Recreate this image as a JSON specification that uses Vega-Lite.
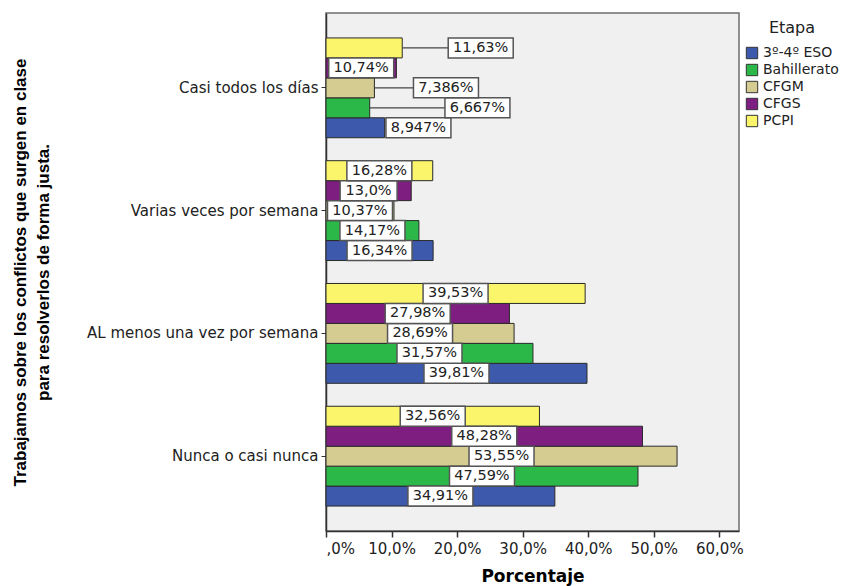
{
  "$schema": "https://vega.github.io/schema/vega-lite/v6.json",
  "width": 413,
  "height": 518,
  "autosize": "none",
  "padding": {"left": 326, "top": 13, "right": 106, "bottom": 55},
  "background": "white",
  "data": {
    "values": [
      {"Respuesta": "Casi todos los días", "Etapa": "3º-4º ESO", "value": 8.947, "label": "8,947%"},
      {"Respuesta": "Casi todos los días", "Etapa": "Bahillerato", "value": 6.667, "label": "6,667%"},
      {"Respuesta": "Casi todos los días", "Etapa": "CFGM", "value": 7.386, "label": "7,386%"},
      {"Respuesta": "Casi todos los días", "Etapa": "CFGS", "value": 10.74, "label": "10,74%"},
      {"Respuesta": "Casi todos los días", "Etapa": "PCPI", "value": 11.63, "label": "11,63%"},
      {"Respuesta": "Varias veces por semana", "Etapa": "3º-4º ESO", "value": 16.34, "label": "16,34%"},
      {"Respuesta": "Varias veces por semana", "Etapa": "Bahillerato", "value": 14.17, "label": "14,17%"},
      {"Respuesta": "Varias veces por semana", "Etapa": "CFGM", "value": 10.37, "label": "10,37%"},
      {"Respuesta": "Varias veces por semana", "Etapa": "CFGS", "value": 13.0, "label": "13,0%"},
      {"Respuesta": "Varias veces por semana", "Etapa": "PCPI", "value": 16.28, "label": "16,28%"},
      {"Respuesta": "AL menos una vez por semana", "Etapa": "3º-4º ESO", "value": 39.81, "label": "39,81%"},
      {"Respuesta": "AL menos una vez por semana", "Etapa": "Bahillerato", "value": 31.57, "label": "31,57%"},
      {"Respuesta": "AL menos una vez por semana", "Etapa": "CFGM", "value": 28.69, "label": "28,69%"},
      {"Respuesta": "AL menos una vez por semana", "Etapa": "CFGS", "value": 27.98, "label": "27,98%"},
      {"Respuesta": "AL menos una vez por semana", "Etapa": "PCPI", "value": 39.53, "label": "39,53%"},
      {"Respuesta": "Nunca o casi nunca", "Etapa": "3º-4º ESO", "value": 34.91, "label": "34,91%"},
      {"Respuesta": "Nunca o casi nunca", "Etapa": "Bahillerato", "value": 47.59, "label": "47,59%"},
      {"Respuesta": "Nunca o casi nunca", "Etapa": "CFGM", "value": 53.55, "label": "53,55%"},
      {"Respuesta": "Nunca o casi nunca", "Etapa": "CFGS", "value": 48.28, "label": "48,28%"},
      {"Respuesta": "Nunca o casi nunca", "Etapa": "PCPI", "value": 32.56, "label": "32,56%"}
    ]
  },
  "transform": [
    {"calculate": "datum.Respuesta === 'Casi todos los días' ? (datum.Etapa === 'PCPI' ? 23.6 : datum.Etapa === 'CFGM' ? 18.3 : datum.Etapa === 'Bahillerato' ? 23.1 : datum.Etapa === '3º-4º ESO' ? 14.1 : datum.value / 2) : datum.value / 2", "as": "lx"},
    {"calculate": "(8 * length(datum.label) + 17) / 2 / 6.556", "as": "hw"},
    {"calculate": "datum.lx - datum.hw", "as": "bx1"},
    {"calculate": "datum.lx + datum.hw", "as": "bx2"}
  ],
  "encoding": {
    "y": {
      "field": "Respuesta",
      "type": "nominal",
      "sort": ["Casi todos los días", "Varias veces por semana", "AL menos una vez por semana", "Nunca o casi nunca"],
      "scale": {"paddingInner": 0.187, "paddingOuter": 0.203},
      "axis": {
        "title": ["Trabajamos sobre los conflictos que surgen en clase", "para resolverlos de forma justa."],
        "titleFont": "Liberation Sans",
        "titleFontSize": 17,
        "titleFontWeight": "bold",
        "titleColor": "#000000",
        "titleX": -314,
        "titleY": 259,
        "titleAlign": "center",
        "titleBaseline": "top",
        "titleLineHeight": 23,
        "labelFont": "DejaVu Sans",
        "labelFontSize": 15,
        "labelLimit": 400,
        "labelColor": "#222222",
        "labelPadding": 3,
        "tickSize": 5,
        "tickColor": "#333333",
        "domainColor": "#333333",
        "domainWidth": 1.5
      }
    },
    "yOffset": {
      "field": "Etapa",
      "type": "nominal",
      "scale": {"domain": ["PCPI", "CFGS", "CFGM", "Bahillerato", "3º-4º ESO"], "paddingInner": 0, "paddingOuter": 0}
    }
  },
  "layer": [
    {
      "mark": {"type": "bar", "stroke": "#2a2a2a", "strokeWidth": 1},
      "encoding": {
        "x": {
          "field": "value",
          "type": "quantitative",
          "scale": {"domain": [0, 63], "nice": false},
          "axis": {
            "values": [0, 10, 20, 30, 40, 50, 60],
            "labelExpr": "datum.value == 0 ? ',0%' : replace(format(datum.value, '.1f'), '.', ',') + '%'",
            "grid": false,
            "title": "Porcentaje",
            "titleFont": "DejaVu Sans",
            "titleFontSize": 17,
            "titleFontWeight": "bold",
            "titleColor": "#000000",
            "titlePadding": 12,
            "labelFont": "DejaVu Sans",
            "labelFontSize": 15,
            "labelColor": "#222222",
            "labelPadding": 4,
            "tickSize": 6,
            "tickColor": "#333333",
            "tickWidth": 1.5,
            "domainColor": "#333333",
            "domainWidth": 1.5
          }
        },
        "color": {
          "field": "Etapa",
          "type": "nominal",
          "scale": {
            "domain": ["3º-4º ESO", "Bahillerato", "CFGM", "CFGS", "PCPI"],
            "range": ["#3C59AB", "#2BB848", "#D5CC92", "#7D1E80", "#FBF56C"]
          },
          "legend": {"title": "Etapa"}
        }
      }
    },
    {
      "transform": [{"filter": "datum.bx1 > datum.value + 1"}],
      "mark": {"type": "rule", "color": "#444444", "strokeWidth": 1.2},
      "encoding": {
        "x": {"field": "value", "type": "quantitative"},
        "x2": {"field": "bx1"}
      }
    },
    {
      "mark": {"type": "bar", "fill": "white", "stroke": "#555555", "strokeWidth": 1.5},
      "encoding": {
        "x": {"field": "bx1", "type": "quantitative"},
        "x2": {"field": "bx2"}
      }
    },
    {
      "mark": {"type": "text", "font": "DejaVu Sans", "fontSize": 14.5, "color": "#222222", "align": "center", "baseline": "middle"},
      "encoding": {
        "x": {"field": "lx", "type": "quantitative"},
        "text": {"field": "label"}
      }
    }
  ],
  "config": {
    "view": {"fill": "#F0F0F0", "stroke": "#6e6e6e", "strokeWidth": 1.5},
    "legend": {
      "orient": "none",
      "legendX": 419,
      "legendY": 7,
      "titleFont": "DejaVu Sans",
      "titleFontSize": 16,
      "titleFontWeight": "normal",
      "titleColor": "#222222",
      "titleAnchor": "middle",
      "titlePadding": 10,
      "labelFont": "DejaVu Sans",
      "labelFontSize": 14,
      "labelColor": "#222222",
      "labelOffset": 4,
      "symbolType": "square",
      "symbolSize": 130,
      "symbolStrokeColor": "#333333",
      "symbolStrokeWidth": 1,
      "rowPadding": 1
    }
  }
}
